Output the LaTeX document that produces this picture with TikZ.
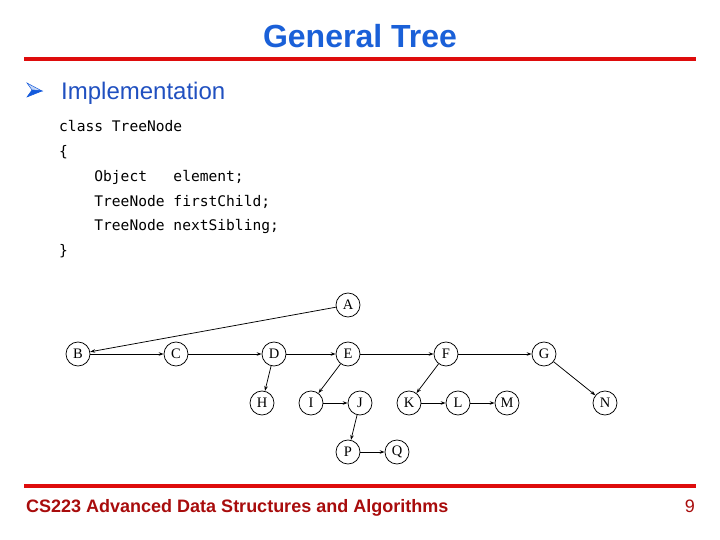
\documentclass[tikz,border=0pt]{standalone}
\usepackage{fontspec}
\setmainfont{Liberation Serif}
\setsansfont{Liberation Sans}
\setmonofont{DejaVu Sans Mono}
\usetikzlibrary{positioning,arrows.meta}
\definecolor{titleblue}{RGB}{26,96,216}
\definecolor{textblue}{RGB}{32,80,192}
\definecolor{bulletblue}{RGB}{20,90,220}
\definecolor{rulered}{RGB}{222,12,12}
\definecolor{footred}{RGB}{168,12,12}

\begin{document}
\begin{tikzpicture}[
    x=1pt, y=-1pt,
 treenode/.style = {
        draw, circle, minimum size=24pt, inner sep=0pt,
        line width=0.75pt, font=\fontsize{14.5}{14.5}\selectfont},
 codeline/.style = {
        anchor=base west, inner sep=0pt,
        font=\ttfamily\fontsize{14.6}{17}\selectfont},
 redrule/.style = {rulered, line width=4pt},
    arrow/.style = {line width=0.75pt, -{Stealth[length=5pt,width=3.5pt]}}
                    ]
\useasboundingbox (0,0) rectangle (720,540);
% the heading
\node (title) [anchor=base, inner sep=0pt, text=titleblue,
               font=\sffamily\bfseries\fontsize{32}{32}\selectfont]
      at (360,47.5) {General Tree};
\draw[redrule] (24,59) coordinate (r1a) -- (696,59) coordinate (r1b);
% the bullet
\filldraw[bulletblue!25, draw=bulletblue, line width=0.5pt]
    (27,83) -- (42,91) -- (32,90) -- cycle;
\filldraw[bulletblue, draw=bulletblue, line width=0.5pt]
    (32,90) -- (42,91) -- (27,97) -- cycle;
\node (impl) [anchor=base west, inner sep=0pt, text=textblue,
              font=\sffamily\fontsize{24}{24}\selectfont]
      at (61,100) {Implementation};
% the class
\foreach \line [count=\i] in {class~TreeNode, \{,
        ~~~~Object~~~element;, ~~~~TreeNode~firstChild;,
        ~~~~TreeNode~nextSibling;, \}}
    \node (code\i) [codeline] at (59,{132+24.7*(\i-1)}) {\line};
% the tree
\node (A) [treenode] at (348,305) {A};
\node (B) [treenode] at (78,354)  {B};
\node (C) [treenode] at (176,354) {C};
\node (D) [treenode] at (274,354) {D};
\node (E) [treenode] at (348,354) {E};
\node (F) [treenode] at (446,354) {F};
\node (G) [treenode] at (544,354) {G};
\node (H) [treenode] at (262,403) {H};
\node (I) [treenode] at (311,403) {I};
\node (J) [treenode] at (360,403) {J};
\node (K) [treenode] at (409,403) {K};
\node (L) [treenode] at (458,403) {L};
\node (M) [treenode] at (507,403) {M};
\node (N) [treenode] at (605,403) {N};
\node (P) [treenode] at (348,452) {P};
\node (Q) [treenode] at (397,452) {Q};
% first child and next sibling links
\foreach \a/\b in {A/B, B/C, C/D, D/E, E/F, F/G, D/H, E/I, I/J,
                   J/P, P/Q, F/K, K/L, L/M, G/N}
    \draw[arrow] (\a) -- (\b);
% the footer
\draw[redrule] (24,486) coordinate (r2a) -- (696,486) coordinate (r2b);
\node (course) [anchor=base west, inner sep=0pt, text=footred,
                font=\sffamily\bfseries\fontsize{18}{18}\selectfont]
      at (26,512.5) {CS223 Advanced Data Structures and Algorithms};
\node (page) [anchor=base east, inner sep=0pt, text=footred,
              font=\sffamily\fontsize{18}{18}\selectfont]
      at (695,512.5) {9};
\end{tikzpicture}
\end{document}
